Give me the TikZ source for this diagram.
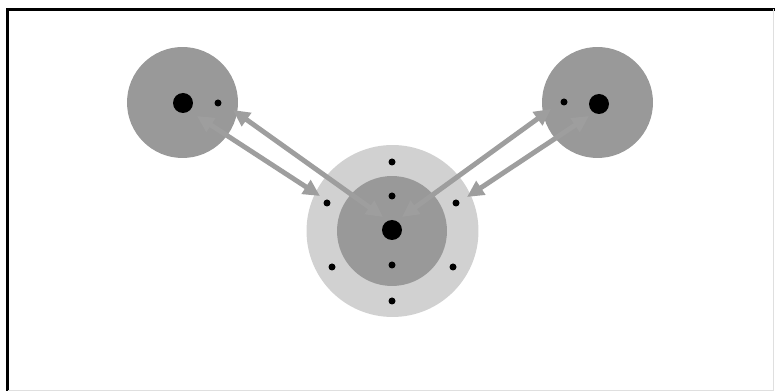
\documentclass[tikz,border=0pt]{standalone}
\usetikzlibrary{arrows.meta}
\definecolor{atomgray}{gray}{0.6}
\definecolor{shellgray}{gray}{0.82}
\definecolor{bondgray}{gray}{0.62}
\begin{document}
\begin{tikzpicture}[x=0.02cm,y=-0.02cm,
  atom/.style={circle,fill=atomgray,inner sep=0pt,minimum size=2.22cm},
  nucleus/.style={circle,fill=black,inner sep=0pt,minimum size=0.4cm},
  electron/.style={circle,fill=black,inner sep=0pt,minimum size=0.14cm},
  bond/.style={{Triangle[length=9.5pt,width=9pt]}-{Triangle[length=9.5pt,width=9pt]},line width=2.8pt,bondgray}]
  \useasboundingbox (0,0) rectangle (775,391);
  % frame
  \draw[line width=1.8pt] (7.5,391) -- (7.5,9.5) -- (775,9.5);
  \draw[gray!25] (773.5,9.5) -- (773.5,390.5) -- (7.5,390.5);
  % side atoms
  \node[atom] (left) at (182.5,102.5) {};
  \node[atom] (right) at (597.5,102.5) {};
  \node[nucleus] (nl) at (183,103) {};
  \node[nucleus] (nr) at (599,104) {};
  \node[electron] (el) at (218,103) {};
  \node[electron] (er) at (564,102) {};
  % central atom
  \node[circle,fill=shellgray,inner sep=0pt,minimum size=3.44cm] (shell) at (392.5,231) {};
  \node[atom,minimum size=2.2cm] (core) at (392,231) {};
  \node[nucleus] (nc) at (392,230) {};
  \foreach \p [count=\i] in {(392,162),(392,196),(392,265),(392,301),(327,203),(456,203),(332,267),(453,267)}
    \node[electron] (e\i) at \p {};
  % bonds
  \coordinate (a1) at (233,110); \coordinate (b1) at (383,217);
  \coordinate (a2) at (197,116); \coordinate (b2) at (320,196);
  \coordinate (a3) at (551,109); \coordinate (b3) at (402,217);
  \coordinate (a4) at (589,116); \coordinate (b4) at (467,197);
  \draw[bond] (a1) -- (b1);
  \draw[bond] (a2) -- (b2);
  \draw[bond] (a3) -- (b3);
  \draw[bond] (a4) -- (b4);
\end{tikzpicture}
\end{document}
